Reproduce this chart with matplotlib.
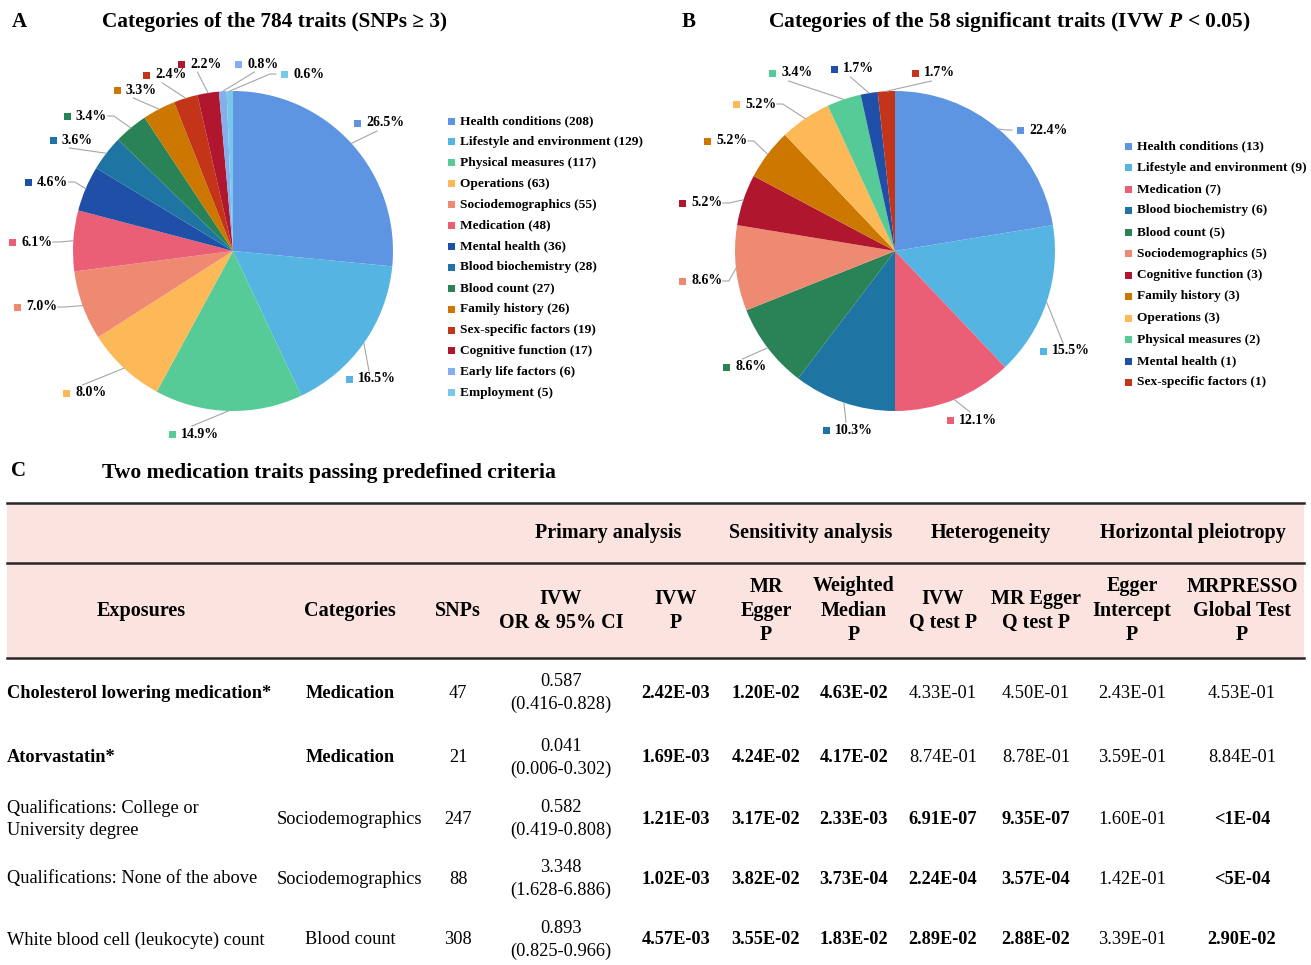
import numpy as np
import matplotlib
matplotlib.use('Agg')
import matplotlib.pyplot as plt
from matplotlib.patches import Rectangle

plt.rcParams['font.family'] = ['Liberation Serif', 'DejaVu Serif']
plt.rcParams['mathtext.fontset'] = 'custom'
plt.rcParams['mathtext.rm'] = 'Liberation Serif:bold'
plt.rcParams['mathtext.it'] = 'Liberation Serif:italic:bold'

W, H = 1311, 965

# ---- panel A: all traits with >= 3 SNPs
cats_a = ['Health conditions', 'Lifestyle and environment', 'Physical measures',
          'Operations', 'Sociodemographics', 'Medication', 'Mental health',
          'Blood biochemistry', 'Blood count', 'Family history',
          'Sex-specific factors', 'Cognitive function', 'Early life factors',
          'Employment']
counts_a = [208, 129, 117, 63, 55, 48, 36, 28, 27, 26, 19, 17, 6, 5]

# ---- panel B: significant traits
cats_b = ['Health conditions', 'Lifestyle and environment', 'Medication',
          'Blood biochemistry', 'Blood count', 'Sociodemographics',
          'Cognitive function', 'Family history', 'Operations',
          'Physical measures', 'Mental health', 'Sex-specific factors']
counts_b = [13, 9, 7, 6, 5, 5, 3, 3, 3, 2, 1, 1]

# ---- panel C: table
exposures = ['Cholesterol lowering medication*', 'Atorvastatin*',
             'Qualifications: College or\nUniversity degree',
             'Qualifications: None of the above',
             'White blood cell (leukocyte) count']
exp_categories = ['Medication', 'Medication', 'Sociodemographics',
                  'Sociodemographics', 'Blood count']
snps = [47, 21, 247, 88, 308]
ivw_or = ['0.587', '0.041', '0.582', '3.348', '0.893']
ivw_ci = ['0.416-0.828', '0.006-0.302', '0.419-0.808', '1.628-6.886', '0.825-0.966']
ivw_p = ['2.42E-03', '1.69E-03', '1.21E-03', '1.02E-03', '4.57E-03']
egger_p = ['1.20E-02', '4.24E-02', '3.17E-02', '3.82E-02', '3.55E-02']
wm_p = ['4.63E-02', '4.17E-02', '2.33E-03', '3.73E-04', '1.83E-02']
ivw_q_p = ['4.33E-01', '8.74E-01', '6.91E-07', '2.24E-04', '2.89E-02']
egger_q_p = ['4.50E-01', '8.78E-01', '9.35E-07', '3.57E-04', '2.88E-02']
egger_int_p = ['2.43E-01', '3.59E-01', '1.60E-01', '1.42E-01', '3.39E-01']
presso_p = ['4.53E-01', '8.84E-01', '<1E-04', '<5E-04', '2.90E-02']
medication_rows = [True, True, False, False, False]

palette = {
    'Health conditions': '#5E95E3', 'Lifestyle and environment': '#56B4E2',
    'Physical measures': '#56CB97', 'Operations': '#FDB858',
    'Sociodemographics': '#EF8A72', 'Medication': '#EA5F76',
    'Mental health': '#1F4FA6', 'Blood biochemistry': '#1E74A3',
    'Blood count': '#298357', 'Family history': '#CC7700',
    'Sex-specific factors': '#C43418', 'Cognitive function': '#B0162E',
    'Early life factors': '#84AFEC', 'Employment': '#79C8EA',
}

# label square positions (pixels from top-left)
label_xy_a = [(357, 123), (349, 379), (172, 434), (66, 393), (17, 307), (12, 242),
              (28, 182), (53, 140), (67, 116), (117, 90), (146, 75), (181, 64),
              (238, 64), (284, 74)]
label_xy_b = [(1020, 130), (1043, 351), (950, 420), (826, 430), (726, 367),
              (682, 281), (682, 203), (707, 141), (736, 104), (772, 73),
              (834, 69), (915, 73)]

BODY = 13.2   # table body
HDR = 14.5    # table header

fig = plt.figure(figsize=(W / 100, H / 100), dpi=100)
ax = fig.add_axes([0, 0, 1, 1])


def Y(v):
    return H - v


def square(x, y, color, size=7):
    ax.add_patch(Rectangle((x - size / 2, Y(y) - size / 2), size, size,
                           facecolor=color, edgecolor='none', zorder=3))


def draw_pie(counts, cats, center, radius, label_xy):
    cx, cy = center
    cols = [palette[c] for c in cats]
    wedges, _ = ax.pie(counts, colors=cols, startangle=90, counterclock=False,
                       center=(cx, Y(cy)), radius=radius, frame=True,
                       wedgeprops=dict(linewidth=0))
    total = sum(counts)
    for w, n, col, (lx, ly) in zip(wedges, counts, cols, label_xy):
        pct = f'{100 * n / total:.1f}%'
        square(lx, ly, col)
        ax.text(lx + 9, Y(ly), pct, fontsize=10, fontweight='bold',
                va='center', ha='left', zorder=3)
        # leader line from wedge rim to the nearest side of the label
        mid = np.deg2rad((w.theta1 + w.theta2) / 2)
        ex = cx + radius * np.cos(mid)
        ey = cy - radius * np.sin(mid)
        x0, x1 = lx - 6, lx + 10 + 7.2 * len(pct)
        y0, y1 = ly - 8, ly + 8
        bx, by = (x0 + x1) / 2, ly
        dx, dy = ex - bx, ey - by
        if abs(dx) / ((x1 - x0) / 2) > abs(dy) / ((y1 - y0) / 2):
            ax_ = x1 + 2 if dx > 0 else x0 - 2
            elbow = ax_ + (6 if dx > 0 else -6)
            xs, ys = [ax_, elbow, ex], [ly, ly, ey]
        else:
            ay = y1 if dy > 0 else y0
            xs, ys = [bx, ex], [ay, ey]
        ax.plot(xs, [Y(v) for v in ys], color='#A6A6A6', lw=0.8, zorder=2)


def draw_legend(counts, cats, x, y0, step):
    for i, (c, n) in enumerate(zip(cats, counts)):
        y = y0 + i * step
        square(x, y, palette[c])
        ax.text(x + 9, Y(y), f'{c} ({n})', fontsize=9.6, fontweight='bold',
                va='center', ha='left')


# panel headings
ax.text(12, Y(22), 'A', fontsize=15, fontweight='bold', va='center')
ax.text(102, Y(22), 'Categories of the 784 traits (SNPs ≥ 3)', fontsize=15.3,
        fontweight='bold', va='center')
ax.text(682, Y(22), 'B', fontsize=15, fontweight='bold', va='center')
ax.text(768, Y(22), r'Categories of the 58 significant traits (IVW $P$ < 0.05)',
        fontsize=15.5, fontweight='bold', va='center')
ax.text(11, Y(471), 'C', fontsize=15, fontweight='bold', va='center')
ax.text(102, Y(473), 'Two medication traits passing predefined criteria',
        fontsize=15.6, fontweight='bold', va='center')

draw_pie(counts_a, cats_a, (233, 251), 160, label_xy_a)
draw_legend(counts_a, cats_a, 451, 121, 20.9)
draw_pie(counts_b, cats_b, (895, 251), 160, label_xy_b)
draw_legend(counts_b, cats_b, 1128, 146, 21.5)

# ---- table
tx0, tx1 = 7, 1304
ax.add_patch(Rectangle((tx0, Y(658)), tx1 - tx0, 658 - 503,
                       facecolor='#FBE4E0', edgecolor='none', zorder=0))
for yy in (503, 563, 658):
    ax.plot([tx0, tx1], [Y(yy), Y(yy)], color='#262626', lw=1.8, zorder=1)

groups = [('Primary analysis', 608), ('Sensitivity analysis', 811),
          ('Heterogeneity', 991), ('Horizontal pleiotropy', 1193)]
for g, x in groups:
    ax.text(x, Y(533), g, fontsize=HDR, fontweight='bold', ha='center', va='center')

headers = ['Exposures', 'Categories', 'SNPs', 'IVW\nOR & 95% CI', 'IVW\nP',
           'MR\nEgger\nP', 'Weighted\nMedian\nP', 'IVW\nQ test P',
           'MR Egger\nQ test P', 'Egger\nIntercept\nP', 'MRPRESSO\nGlobal Test\nP']
col_x = [141, 350, 458, 561, 676, 766, 854, 943, 1036, 1132, 1242]
for h, x in zip(headers, col_x):
    ax.text(x, Y(611), h, fontsize=HDR, fontweight='bold', ha='center',
            va='center', linespacing=1.3)

row_y = [693, 758, 819, 879, 940]
p_columns = [ivw_p, egger_p, wm_p, ivw_q_p, egger_q_p, egger_int_p, presso_p]


def significant(s):
    return float(s.lstrip('<')) < 0.05


for i, y in enumerate(row_y):
    w = 'bold' if medication_rows[i] else 'normal'
    ax.text(tx0, Y(y), exposures[i], fontsize=BODY, fontweight=w,
            ha='left', va='center', linespacing=1.4)
    ax.text(col_x[1], Y(y), exp_categories[i], fontsize=BODY, fontweight=w,
            ha='center', va='center')
    ax.text(col_x[2], Y(y), str(snps[i]), fontsize=BODY, ha='center', va='center')
    ax.text(col_x[3], Y(y), f'{ivw_or[i]}\n({ivw_ci[i]})', fontsize=BODY,
            ha='center', va='center', linespacing=1.4)
    for col, x in zip(p_columns, col_x[4:]):
        s = col[i]
        ax.text(x, Y(y), s, fontsize=BODY,
                fontweight='bold' if significant(s) else 'normal',
                ha='center', va='center')

ax.set_xlim(0, W)
ax.set_ylim(0, H)
ax.set_aspect('auto')
ax.set_axis_off()

fig.savefig('out.png', dpi=100, facecolor='white')
